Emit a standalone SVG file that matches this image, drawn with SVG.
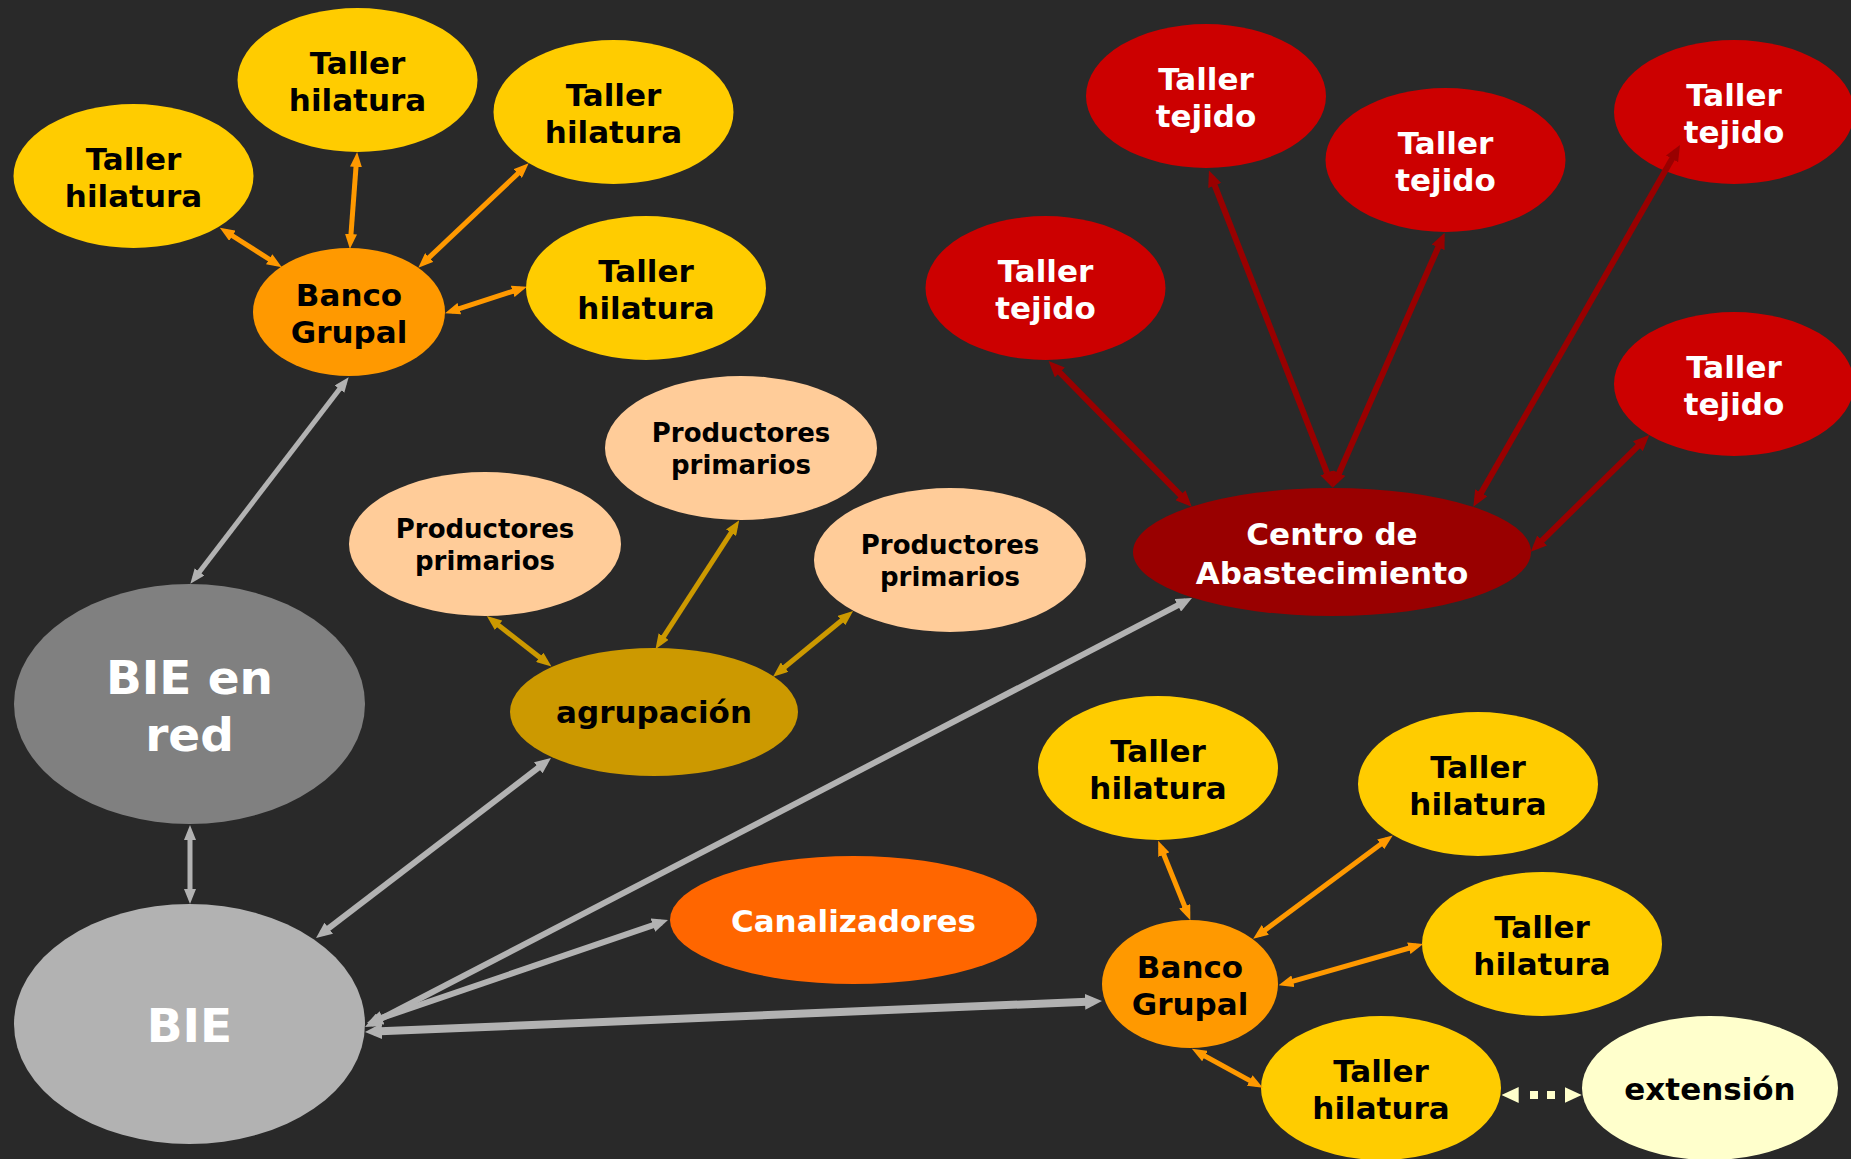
<svg xmlns="http://www.w3.org/2000/svg" width="1851" height="1159" viewBox="0 0 1851 1159">
<style>
.t{font-family:"DejaVu Sans","Verdana",sans-serif;font-weight:bold;text-anchor:middle}
.s31{font-size:31px}
.s26{font-size:26px}
.s47{font-size:47px}
.dk{fill:#000}
.wt{fill:#fff}
.or{stroke:#FF9900;stroke-width:5}
.ag{stroke:#CC9900;stroke-width:5}
.g5{stroke:#B2B2B2;stroke-width:5}
.g6{stroke:#B2B2B2;stroke-width:6}
.g8{stroke:#B2B2B2;stroke-width:8}
.rd{stroke:#990000;stroke-width:6}
</style>
<defs>
<marker id="mO" viewBox="0 0 15 12" refX="8" refY="6" markerWidth="15" markerHeight="12" markerUnits="userSpaceOnUse" orient="auto-start-reverse"><path d="M0,0 L15,6 L0,12 z" fill="#FF9900"/></marker>
<marker id="mA" viewBox="0 0 15 12" refX="8" refY="6" markerWidth="15" markerHeight="12" markerUnits="userSpaceOnUse" orient="auto-start-reverse"><path d="M0,0 L15,6 L0,12 z" fill="#CC9900"/></marker>
<marker id="mG5" viewBox="0 0 15 12" refX="8" refY="6" markerWidth="15" markerHeight="12" markerUnits="userSpaceOnUse" orient="auto-start-reverse"><path d="M0,0 L15,6 L0,12 z" fill="#B2B2B2"/></marker>
<marker id="mG6" viewBox="0 0 16 14" refX="9" refY="7" markerWidth="16" markerHeight="14" markerUnits="userSpaceOnUse" orient="auto-start-reverse"><path d="M0,0 L16,7 L0,14 z" fill="#B2B2B2"/></marker>
<marker id="mG8" viewBox="0 0 17 16" refX="8" refY="8" markerWidth="17" markerHeight="16" markerUnits="userSpaceOnUse" orient="auto-start-reverse"><path d="M0,0 L17,8 L0,16 z" fill="#B2B2B2"/></marker>
<marker id="mR" viewBox="0 0 16 14" refX="9" refY="7" markerWidth="16" markerHeight="14" markerUnits="userSpaceOnUse" orient="auto-start-reverse"><path d="M0,0 L16,7 L0,14 z" fill="#990000"/></marker>
<marker id="mY" viewBox="0 0 17 16" refX="8" refY="8" markerWidth="17" markerHeight="16" markerUnits="userSpaceOnUse" orient="auto-start-reverse"><path d="M0,0 L17,8 L0,16 z" fill="#FFFFCC"/></marker>
</defs>
<rect x="0" y="0" width="1851" height="1159" fill="#292929"/>
<g id="taller-hilatura-1"><ellipse cx="133.5" cy="176" rx="120" ry="72" fill="#FFCC00"/><text class="t s31 dk" x="133.5" y="170">Taller</text><text class="t s31 dk" x="133.5" y="207">hilatura</text></g>
<g id="taller-hilatura-2"><ellipse cx="357.5" cy="80" rx="120" ry="72" fill="#FFCC00"/><text class="t s31 dk" x="357.5" y="74">Taller</text><text class="t s31 dk" x="357.5" y="111">hilatura</text></g>
<g id="taller-hilatura-3"><ellipse cx="613.5" cy="112" rx="120" ry="72" fill="#FFCC00"/><text class="t s31 dk" x="613.5" y="106">Taller</text><text class="t s31 dk" x="613.5" y="143">hilatura</text></g>
<g id="taller-hilatura-4"><ellipse cx="646" cy="288" rx="120" ry="72" fill="#FFCC00"/><text class="t s31 dk" x="646" y="282">Taller</text><text class="t s31 dk" x="646" y="319">hilatura</text></g>
<g id="banco-grupal-1"><ellipse cx="349" cy="312" rx="96" ry="64" fill="#FF9900"/><text class="t s31 dk" x="349" y="306">Banco</text><text class="t s31 dk" x="349" y="343">Grupal</text></g>
<g id="taller-tejido-1"><ellipse cx="1045.5" cy="288" rx="120" ry="72" fill="#CC0000"/><text class="t s31 wt" x="1045.5" y="282">Taller</text><text class="t s31 wt" x="1045.5" y="319">tejido</text></g>
<g id="taller-tejido-2"><ellipse cx="1206" cy="96" rx="120" ry="72" fill="#CC0000"/><text class="t s31 wt" x="1206" y="90">Taller</text><text class="t s31 wt" x="1206" y="127">tejido</text></g>
<g id="taller-tejido-3"><ellipse cx="1445.5" cy="160" rx="120" ry="72" fill="#CC0000"/><text class="t s31 wt" x="1445.5" y="154">Taller</text><text class="t s31 wt" x="1445.5" y="191">tejido</text></g>
<g id="taller-tejido-4"><ellipse cx="1734" cy="112" rx="120" ry="72" fill="#CC0000"/><text class="t s31 wt" x="1734" y="106">Taller</text><text class="t s31 wt" x="1734" y="143">tejido</text></g>
<g id="taller-tejido-5"><ellipse cx="1734" cy="384" rx="120" ry="72" fill="#CC0000"/><text class="t s31 wt" x="1734" y="378">Taller</text><text class="t s31 wt" x="1734" y="415">tejido</text></g>
<g id="centro-abastecimiento"><ellipse cx="1332" cy="552" rx="199" ry="64" fill="#990000"/><text class="t s31 wt" x="1332" y="545">Centro de</text><text class="t s31 wt" x="1332" y="584">Abastecimiento</text></g>
<g id="productores-1"><ellipse cx="485" cy="544" rx="136" ry="72" fill="#FFCC99"/><text class="t s26 dk" x="485" y="538">Productores</text><text class="t s26 dk" x="485" y="570">primarios</text></g>
<g id="productores-2"><ellipse cx="741" cy="448" rx="136" ry="72" fill="#FFCC99"/><text class="t s26 dk" x="741" y="442">Productores</text><text class="t s26 dk" x="741" y="474">primarios</text></g>
<g id="productores-3"><ellipse cx="950" cy="560" rx="136" ry="72" fill="#FFCC99"/><text class="t s26 dk" x="950" y="554">Productores</text><text class="t s26 dk" x="950" y="586">primarios</text></g>
<g id="agrupacion"><ellipse cx="654" cy="712" rx="144" ry="64" fill="#CC9900"/><text class="t s31 dk" x="654" y="723">agrupación</text></g>
<g id="bie-en-red"><ellipse cx="189.5" cy="704" rx="175.5" ry="120" fill="#808080"/><text class="t s47 wt" x="189.5" y="694">BIE en</text><text class="t s47 wt" x="189.5" y="751">red</text></g>
<g id="bie"><ellipse cx="189.5" cy="1024" rx="175.5" ry="120" fill="#B2B2B2"/><text class="t s47 wt" x="189.5" y="1042">BIE</text></g>
<g id="canalizadores"><ellipse cx="853.5" cy="920" rx="183.5" ry="64" fill="#FF6600"/><text class="t s31 wt" x="853.5" y="932">Canalizadores</text></g>
<g id="taller-hilatura-5"><ellipse cx="1158" cy="768" rx="120" ry="72" fill="#FFCC00"/><text class="t s31 dk" x="1158" y="762">Taller</text><text class="t s31 dk" x="1158" y="799">hilatura</text></g>
<g id="taller-hilatura-6"><ellipse cx="1478" cy="784" rx="120" ry="72" fill="#FFCC00"/><text class="t s31 dk" x="1478" y="778">Taller</text><text class="t s31 dk" x="1478" y="815">hilatura</text></g>
<g id="taller-hilatura-7"><ellipse cx="1542" cy="944" rx="120" ry="72" fill="#FFCC00"/><text class="t s31 dk" x="1542" y="938">Taller</text><text class="t s31 dk" x="1542" y="975">hilatura</text></g>
<g id="taller-hilatura-8"><ellipse cx="1381" cy="1088" rx="120" ry="72" fill="#FFCC00"/><text class="t s31 dk" x="1381" y="1082">Taller</text><text class="t s31 dk" x="1381" y="1119">hilatura</text></g>
<g id="banco-grupal-2"><ellipse cx="1190" cy="984" rx="88" ry="64" fill="#FF9900"/><text class="t s31 dk" x="1190" y="978">Banco</text><text class="t s31 dk" x="1190" y="1015">Grupal</text></g>
<g id="extension"><ellipse cx="1710" cy="1088" rx="128" ry="72" fill="#FFFFCC"/><text class="t s31 dk" x="1710" y="1100">extensión</text></g>
<g id="connectors" fill="none">
<line class="or" x1="225.7" y1="231.5" x2="275.9" y2="263.5" marker-start="url(#mO)" marker-end="url(#mO)"/>
<line class="or" x1="356.6" y1="159" x2="350.4" y2="242" marker-start="url(#mO)" marker-end="url(#mO)"/>
<line class="or" x1="523.6" y1="168.1" x2="423.4" y2="262.9" marker-start="url(#mO)" marker-end="url(#mO)"/>
<line class="or" x1="520.3" y1="288.9" x2="451.7" y2="311.1" marker-start="url(#mO)" marker-end="url(#mO)"/>
<line class="g5" x1="344.4" y1="382.8" x2="194.6" y2="578.2" marker-start="url(#mG5)" marker-end="url(#mG5)"/>
<line class="g5" x1="190" y1="832" x2="190" y2="897" marker-start="url(#mG5)" marker-end="url(#mG5)"/>
<line class="g6" x1="321.6" y1="933.7" x2="545.4" y2="762.3" marker-start="url(#mG6)" marker-end="url(#mG6)"/>
<line class="g6" x1="371.2" y1="1023.8" x2="1185.8" y2="601.2" marker-start="url(#mG6)" marker-end="url(#mG6)"/>
<line class="g6" x1="373.6" y1="1020.7" x2="661.4" y2="922.3" marker-start="url(#mG6)" marker-end="url(#mG6)"/>
<line class="g8" x1="374" y1="1031.6" x2="1093" y2="1001.4" marker-start="url(#mG8)" marker-end="url(#mG8)"/>
<line class="ag" x1="492.3" y1="620.4" x2="546" y2="662.3" marker-start="url(#mA)" marker-end="url(#mA)"/>
<line class="ag" x1="735.4" y1="526" x2="659.3" y2="643.3" marker-start="url(#mA)" marker-end="url(#mA)"/>
<line class="ag" x1="847.7" y1="615.5" x2="778.4" y2="672.2" marker-start="url(#mA)" marker-end="url(#mA)"/>
<line class="rd" x1="1053.5" y1="366" x2="1186.8" y2="501.7" marker-start="url(#mR)" marker-end="url(#mR)"/>
<line class="rd" x1="1211.5" y1="177.1" x2="1330.2" y2="481.2" marker-start="url(#mR)" marker-end="url(#mR)"/>
<line class="rd" x1="1441.8" y1="239.1" x2="1335.5" y2="481.3" marker-start="url(#mR)" marker-end="url(#mR)"/>
<line class="rd" x1="1676.5" y1="151.1" x2="1476.8" y2="500.6" marker-start="url(#mR)" marker-end="url(#mR)"/>
<line class="rd" x1="1644.3" y1="439.9" x2="1535.7" y2="546.8" marker-start="url(#mR)" marker-end="url(#mR)"/>
<line class="or" x1="1160.8" y1="847.3" x2="1187.7" y2="913.7" marker-start="url(#mO)" marker-end="url(#mO)"/>
<line class="or" x1="1387.1" y1="839.6" x2="1258.8" y2="934.7" marker-start="url(#mO)" marker-end="url(#mO)"/>
<line class="or" x1="1416.5" y1="946" x2="1285.3" y2="983.4" marker-start="url(#mO)" marker-end="url(#mO)"/>
<line class="or" x1="1256.7" y1="1084.4" x2="1198" y2="1052.2" marker-start="url(#mO)" marker-end="url(#mO)"/>
<line x1="1510.7" y1="1095" x2="1572.7" y2="1095" stroke="none" stroke-width="8" marker-start="url(#mY)" marker-end="url(#mY)"/>
<line x1="1530" y1="1095" x2="1555" y2="1095" stroke="#FFFFCC" stroke-width="8" stroke-dasharray="8 9"/>
</g>
</svg>
